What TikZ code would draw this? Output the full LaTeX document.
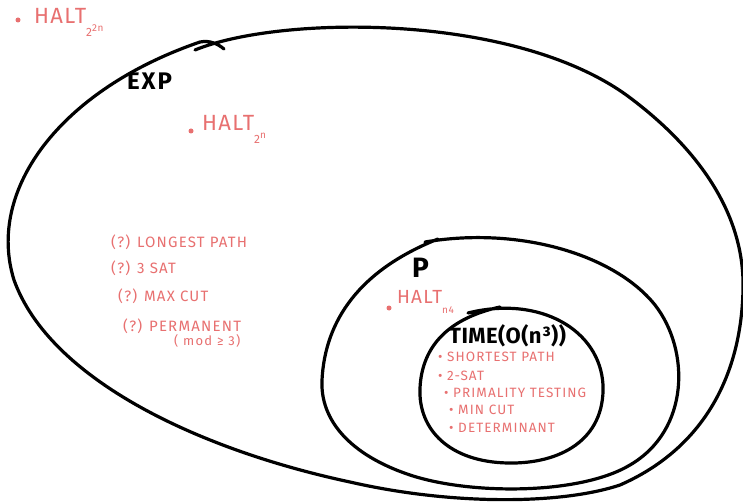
\documentclass[tikz,border=0pt]{standalone}
\usepackage{fontspec}
\setmainfont{Fira Sans}
\definecolor{pen}{RGB}{232,112,112}
\begin{document}
\begin{tikzpicture}[x=1pt,y=-1pt,
  ring/.style={line width=3.2pt, black, line cap=round, line join=round},
  red/.style={anchor=west, text=pen, inner sep=0pt, font=\fontsize{15}{15}\selectfont\addfontfeature{LetterSpace=8}},
  small/.style={red, font=\fontsize{13.5}{13.5}\selectfont\addfontfeature{LetterSpace=8}},
  title/.style={anchor=west, inner sep=0pt, font=\fontsize{24}{24}\selectfont\bfseries\addfontfeature{LetterSpace=8}},
  dot/.style={circle, fill=pen, inner sep=0pt, minimum size=5pt}]
\useasboundingbox (0,0) rectangle (743,502);
\clip (0,0) rectangle (743,502);
\fill[white] (0,0) rectangle (743,502);
% EXP ring
\draw[ring] (195,50) .. controls (280,15) and (520,12) .. (633,100)
  .. controls (705,155) and (745,220) .. (743,290)
  .. controls (741,380) and (700,450) .. (620,485)
  .. controls (560,505) and (450,505) .. (350,482)
  .. controls (200,450) and (50,380) .. (14,280)
  .. controls (-14,190) and (60,90) .. (200,42)
  .. controls (210,40) and (218,44) .. (224,49);
% P ring
\draw[ring] (425,242) .. controls (520,226) and (615,255) .. (655,305)
  .. controls (690,350) and (690,430) .. (630,465)
  .. controls (580,495) and (470,495) .. (410,475)
  .. controls (350,455) and (320,420) .. (322,380)
  .. controls (325,320) and (360,270) .. (438,239);
% TIME ring
\draw[ring] (468,313) .. controls (540,295) and (600,330) .. (603,385)
  .. controls (605,440) and (560,464) .. (508,463)
  .. controls (450,462) and (418,430) .. (420,388)
  .. controls (422,345) and (450,318) .. (500,307);
% titles
\node[title] (exp) at (127,81) {EXP};
\node[title, font=\fontsize{28}{28}\selectfont\bfseries] (p) at (412,268) {P};
\node[title, font=\fontsize{22}{22}\selectfont\bfseries\addfontfeature{LetterSpace=2}] (time) at (449,336) {TIME(O(n³))};
% HALT labels
\node[dot] (d1) at (18,20) {};
\node[red, font=\fontsize{22}{22}\selectfont\addfontfeature{LetterSpace=6}] (h1) at (34,22) {HALT\raisebox{-13pt}{\fontsize{12}{12}\selectfont 2\raisebox{5pt}{\fontsize{10}{10}\selectfont 2n}}};
\node[dot] (d2) at (191,131) {};
\node[red, font=\fontsize{22}{22}\selectfont\addfontfeature{LetterSpace=6}] (h2) at (202,129) {HALT\raisebox{-13pt}{\fontsize{12}{12}\selectfont 2\raisebox{5pt}{\fontsize{10}{10}\selectfont n}}};
\node[dot] (d3) at (389,308) {};
\node[red, font=\fontsize{19}{19}\selectfont\addfontfeature{LetterSpace=6}] (h3) at (397,302) {HALT\raisebox{-10pt}{\fontsize{10}{10}\selectfont n4}};
% open problems
\node[red] (l1) at (111,242) {(?) LONGEST PATH};
\node[red] (l2) at (111,268) {(?) 3 SAT};
\node[red] (l3) at (118,296) {(?) MAX CUT};
\node[red] (l4) at (123,326) {(?) PERMANENT};
\node[red, font=\fontsize{13}{13}\selectfont\addfontfeature{LetterSpace=10}] (l5) at (174,341) {( mod ≥ 3)};
% in time n^3
\node[small] (t1) at (438,357) {• SHORTEST PATH};
\node[small] (t2) at (438,376) {• 2-SAT};
\node[small] (t3) at (444,393) {• PRIMALITY TESTING};
\node[small] (t4) at (449,410) {• MIN CUT};
\node[small] (t5) at (449,428) {• DETERMINANT};
\end{tikzpicture}
\end{document}
